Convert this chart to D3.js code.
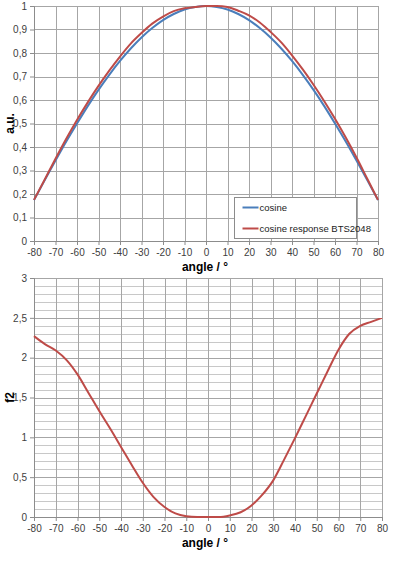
<!DOCTYPE html>
<html>
<head>
<meta charset="utf-8">
<script src="https://cdn.jsdelivr.net/npm/d3@7"></script>
<style>
  body { margin: 0; background: #fff; }
  text { font-family: "Liberation Sans", Arial, sans-serif; }
</style>
</head>
<body>
<div class="svgtarget"></div>
<script>
// angle steps
var angles = [-80,-75,-70,-65,-60,-55,-50,-45,-40,-35,-30,-25,-20,-15,-10,-5,0,5,10,15,20,25,30,35,40,45,50,55,60,65,70,75,80];
var cosineVals = [0.174,0.259,0.342,0.423,0.5,0.574,0.643,0.707,0.766,0.819,0.866,0.906,0.94,0.966,0.985,0.996,1,0.996,0.985,0.966,0.94,0.906,0.866,0.819,0.766,0.707,0.643,0.574,0.5,0.423,0.342,0.259,0.174];
var btsVals = [0.175,0.262,0.35,0.435,0.515,0.59,0.66,0.725,0.785,0.84,0.885,0.925,0.955,0.978,0.99,0.996,1,1,0.996,0.98,0.96,0.93,0.89,0.845,0.79,0.73,0.665,0.595,0.52,0.44,0.355,0.265,0.175];
var f2Vals = [2.27,2.17,2.09,1.97,1.79,1.56,1.33,1.11,0.88,0.65,0.43,0.25,0.125,0.045,0.01,0,0,0,0.02,0.06,0.145,0.28,0.46,0.72,0.99,1.27,1.55,1.83,2.1,2.3,2.4,2.45,2.5];
var xTicks = [-80,-70,-60,-50,-40,-30,-20,-10,0,10,20,30,40,50,60,70,80];
var topYTicks = [0,0.1,0.2,0.3,0.4,0.5,0.6,0.7,0.8,0.9,1];
var botYTicks = [0,0.5,1,1.5,2,2.5,3];
var legendNames = ["cosine","cosine response BTS2048"];
var lineColors = ["#4a7ebb","#be4b48"];

var svg = d3.select(".svgtarget").append("svg")
    .attr("width", 400).attr("height", 565);

var comma = function(v) { return String(v).replace(".", ","); };

var drawPanel = function(box, yMax, yTicks, minorStep, yTitle, series) {
    var x = d3.scaleLinear().domain([-80, 80]).range([box.left, box.right]);
    var y = d3.scaleLinear().domain([0, yMax]).range([box.bottom, box.top]);
    var g = svg.append("g");

    // minor horizontal grid
    if (minorStep) {
        g.append("g").selectAll("line").data(d3.range(0, yMax + 1e-9, minorStep))
          .enter().append("line")
          .attr("x1", box.left).attr("x2", box.right)
          .attr("y1", d => Math.round(y(d)) + 0.5).attr("y2", d => Math.round(y(d)) + 0.5)
          .attr("stroke", "#c8c8c8").attr("stroke-width", 1);
    }
    // major grid
    g.append("g").selectAll("line").data(yTicks).enter().append("line")
      .attr("x1", box.left).attr("x2", box.right)
      .attr("y1", d => Math.round(y(d)) + 0.5).attr("y2", d => Math.round(y(d)) + 0.5)
      .attr("stroke", "#a6a6a6").attr("stroke-width", 1);
    g.append("g").selectAll("line").data(xTicks).enter().append("line")
      .attr("y1", box.top).attr("y2", box.bottom)
      .attr("x1", d => Math.round(x(d)) + 0.5).attr("x2", d => Math.round(x(d)) + 0.5)
      .attr("stroke", "#a6a6a6").attr("stroke-width", 1);

    // axes
    var yAxis = d3.axisLeft(y).tickValues(yTicks).tickFormat(comma).tickSize(4);
    var ay = g.append("g").attr("transform", "translate(" + box.left + ",0)").call(yAxis);
    var xAxis = d3.axisBottom(x).tickValues(xTicks).tickFormat(d => d).tickSize(4);
    var ax = g.append("g").attr("transform", "translate(0," + box.bottom + ")").call(xAxis);
    [ay, ax].forEach(function(a) {
        a.select(".domain").attr("stroke", "#8c8c8c");
        a.selectAll(".tick line").attr("stroke", "#8c8c8c");
        a.selectAll(".tick text").attr("fill", "#404040").style("font-size", "10px")
         .style("font-family", "'Liberation Sans', Arial, sans-serif");
    });
    ay.selectAll(".tick text").attr("x", -7);
    ax.selectAll(".tick text").attr("y", 8);

    // titles
    g.append("text").attr("x", 205).attr("y", box.bottom + 30)
      .attr("text-anchor", "middle").style("font-size", "12px").style("font-weight", "bold")
      .text("angle / °");
    g.append("text")
      .attr("transform", "translate(14," + (box.top + box.bottom) / 2 + ") rotate(-90)")
      .attr("text-anchor", "middle").style("font-size", "12px").style("font-weight", "bold")
      .text(yTitle);

    var line = d3.line().x(d => x(d[0])).y(d => y(d[1])).curve(d3.curveMonotoneX);
    series.forEach(function(s) {
        g.append("path").datum(d3.zip(angles, s.values))
          .attr("fill", "none").attr("stroke", s.color).attr("stroke-width", 2)
          .attr("d", line);
    });
    return {x: x, y: y};
};

drawPanel({left: 34, right: 378, top: 6, bottom: 241}, 1, topYTicks, 0, "a.u.",
    [{values: cosineVals, color: lineColors[0]}, {values: btsVals, color: lineColors[1]}]);

drawPanel({left: 34, right: 382, top: 278, bottom: 517}, 3, botYTicks, 0.1, "f2",
    [{values: f2Vals, color: lineColors[1]}]);

// legend
var lg = svg.append("g").attr("transform", "translate(234.5,197.5)");
lg.append("rect").attr("width", 122).attr("height", 41)
  .attr("fill", "#fff").attr("stroke", "#8c8c8c");
legendNames.forEach(function(n, i) {
    var yy = 10 + i * 21;
    lg.append("line").attr("x1", 8).attr("x2", 24).attr("y1", yy).attr("y2", yy)
      .attr("stroke", lineColors[i]).attr("stroke-width", 2);
    lg.append("text").attr("x", 25).attr("y", yy + 3.5)
      .style("font-size", "9.5px").attr("fill", "#222").text(n);
});
</script>
</body>
</html>
